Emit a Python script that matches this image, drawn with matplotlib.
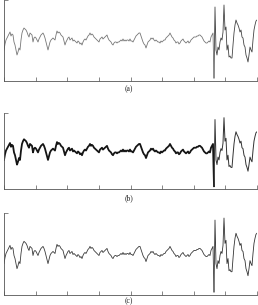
import matplotlib
matplotlib.use("Agg")
import matplotlib.pyplot as plt
import numpy as np

# Signal (pixel rows, top=0, converted to values below)
sig_rows = [
    50, 44, 40, 38, 36, 34, 32, 36, 34, 35, 42, 45, 50, 55, 52, 48, 50, 40, 33, 30,
    28, 29, 30, 32, 35, 37, 33, 34, 35, 42, 38, 37, 38, 40, 42, 39, 37, 35, 34, 33,
    35, 38, 42, 46, 50, 46, 42, 40, 39, 38, 39, 40, 35, 31, 33, 32, 33, 35, 36, 37,
    41, 45, 42, 40, 38, 37, 40, 39, 38, 41, 40, 41, 42, 43, 41, 42, 44, 43, 45, 42,
    40, 39, 40, 38, 36, 35, 33, 35, 34, 35, 37, 38, 39, 40, 41, 42, 39, 38, 37, 39,
    38, 37, 36, 35, 38, 40, 41, 42, 44, 45, 43, 42, 42, 43, 42, 42, 41, 40, 41, 39,
    41, 40, 41, 40, 40, 41, 39, 41, 41, 42, 40, 38, 36, 35, 34, 33, 33, 36, 39, 42,
    44, 45, 48, 45, 42, 41, 40, 38, 39, 38, 40, 41, 40, 41, 42, 42, 43, 41, 42, 41,
    40, 40, 38, 37, 36, 35, 33, 35, 37, 38, 40, 41, 43, 42, 42, 44, 43, 41, 40, 39,
    41, 42, 43, 42, 41, 43, 42, 40, 39, 38, 37, 37, 37, 36, 36, 35, 35, 36, 37, 39,
    41, 42, 43, 43, 42, 41, 42, 37, 35, 33, 78, 7, 50, 55, 47, 50, 42, 38, 40, 32,
    5, 30, 27, 50, 45, 57, 56, 58, 58, 45, 33, 25, 20, 23, 25, 28, 32, 30, 37, 38,
    45, 47, 55, 58, 62, 55, 47, 50, 52, 40, 30, 25, 21, 20,
]
signal_a = [41 - r for r in sig_rows]
signal_b = signal_a
signal_c = signal_a
labels = ["(a)", "(b)", "(c)"]

W, H = 258, 305
fig = plt.figure(figsize=(W / 100, H / 100), dpi=100)

# (top px, bottom px) of each panel
panels = [(0, 81), (113, 189), (213, 295)]
label_y = [89, 198, 301]
calm_styles = [dict(color="#777777", lw=0.6), dict(color="#151515", lw=1.3), dict(color="#3c3c3c", lw=0.6)]
burst_styles = [dict(color="#444444", lw=0.6), dict(color="#333333", lw=0.7), dict(color="#333333", lw=0.6)]
series = [signal_a, signal_b, signal_c]
split = 210

for (top, bot), ly, cs, bs, s, lab in zip(panels, label_y, calm_styles, burst_styles, series, labels):
    ax = fig.add_axes([4 / W, 1 - bot / H, 253 / W, (bot - top) / H])
    x = np.arange(len(s))
    ax.plot(x[:split + 1], s[:split + 1], **cs)
    ax.plot(x[split:], s[split:], **bs)
    ax.set_xlim(0, len(s) - 1)
    ax.set_ylim(-40, 41)
    for sp in ["top", "right"]:
        ax.spines[sp].set_visible(False)
    for sp in ["left", "bottom"]:
        ax.spines[sp].set_color("#555555")
        ax.spines[sp].set_linewidth(0.6)
    ax.set_xticks(np.linspace(0, len(s) - 1, 9))
    ax.set_yticks([41])
    ax.tick_params(direction="in", length=3, width=0.5, color="#555555",
                   labelbottom=False, labelleft=False)
    fig.text(129 / W, 1 - ly / H, lab, ha="center", va="center",
             fontsize=5.5, family="Liberation Serif", color="#222222")

fig.savefig("out.png", dpi=100)
